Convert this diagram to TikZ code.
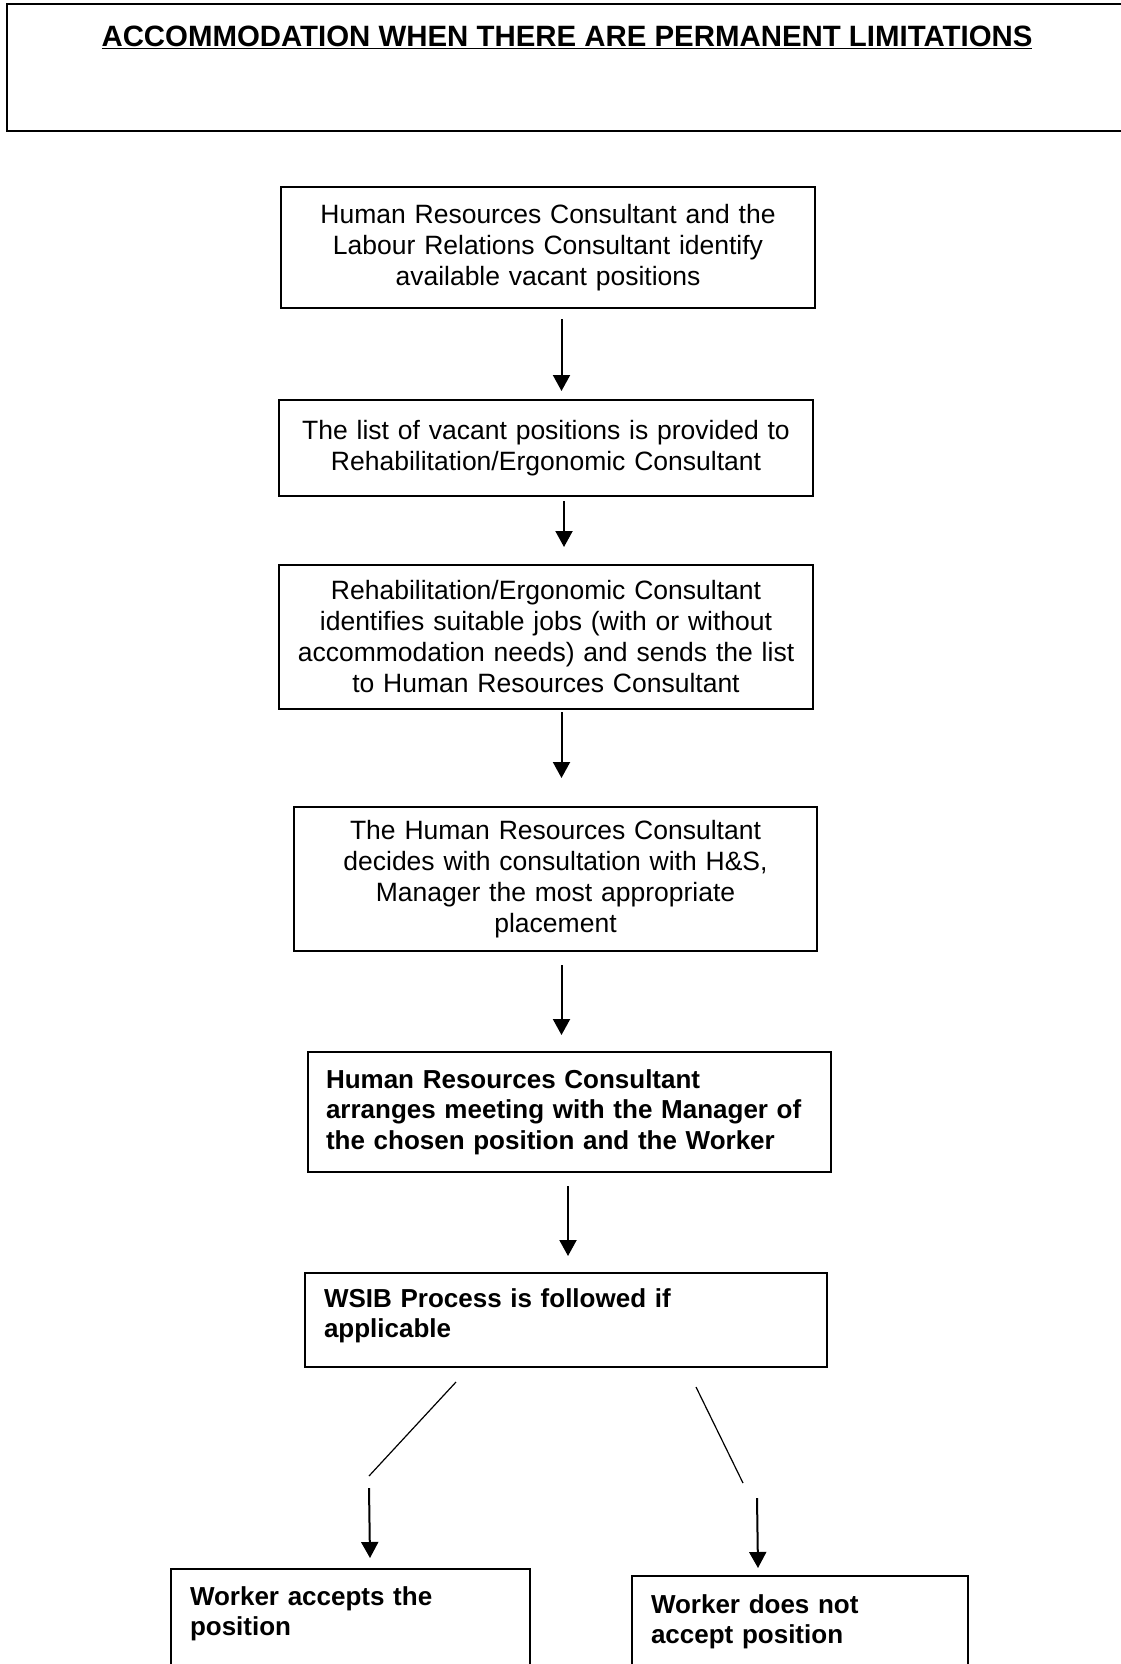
\documentclass[tikz,border=0pt]{standalone}
\usepackage{fontspec}
\setmainfont{Liberation Sans}
\usetikzlibrary{arrows.meta}

\tikzset{
  stepbox/.style={draw, line width=2pt, rectangle, anchor=north west, inner sep=0pt,
    font=\fontsize{26.5}{31}\selectfont},
  midbox/.style={stepbox, align=center},
  leftbox/.style={stepbox, align=left, font=\fontsize{26}{30.5}\selectfont\bfseries},
  arr/.style={line width=2pt, -{Triangle[length=16pt,width=17pt]}},
  split/.style={line width=1.2pt},
}

\begin{document}
\begin{tikzpicture}[x=1pt,y=-1pt]
  \useasboundingbox (0,0) rectangle (1120,1664);
  \fill[white] (0,0) rectangle (1120,1664);

  % title box
  \node[stepbox, minimum width=1120pt, text height=43pt, text depth=84pt,
    font=\fontsize{29.4}{34}\selectfont\bfseries] (title) at (6,3)
    {\underline{ACCOMMODATION WHEN THERE ARE PERMANENT LIMITATIONS}};

  % steps
  \node[midbox, minimum width=534pt, minimum height=121pt, text width=510pt] (vacant) at (280,186)
    {Human Resources Consultant and the\\Labour Relations Consultant identify\\available vacant positions};
  \node[midbox, minimum width=534pt, minimum height=96pt, text width=510pt] (list) at (278,399)
    {The list of vacant positions is provided to\\Rehabilitation/Ergonomic Consultant};
  \node[midbox, minimum width=534pt, minimum height=144pt, text width=514pt] (jobs) at (278,564)
    {Rehabilitation/Ergonomic Consultant\\identifies suitable jobs (with or without\\accommodation needs) and sends the list\\to Human Resources Consultant};
  \node[midbox, minimum width=523pt, minimum height=144pt, text width=500pt] (decide) at (293,806)
    {The Human Resources Consultant\\decides with consultation with H\&S,\\Manager the most appropriate\\placement};
  \node[leftbox, minimum width=523pt, text width=487pt, text height=36pt, text depth=84pt] (meet) at (307,1051)
    {Human Resources Consultant\\arranges meeting with the Manager of\\the chosen position and the Worker};
  \node[leftbox, minimum width=522pt, text width=484pt, text height=34pt, text depth=60pt] (wsib) at (304,1272)
    {WSIB Process is followed if\\applicable};

  % outcomes
  \node[leftbox, minimum width=359pt, text width=321pt, text height=36pt, text depth=150pt] (accept) at (170,1568)
    {Worker accepts the\\position};
  \node[leftbox, minimum width=336pt, text width=298pt, text height=37pt, text depth=150pt] (decline) at (631,1575)
    {Worker does not\\accept position};

  % arrows
  \draw[arr] ([xshift=13.5pt,yshift=-10pt]vacant.south) -- ([xshift=15.5pt,yshift=8pt]list.north);
  \draw[arr] ([xshift=18pt,yshift=-4pt]list.south) -- ([xshift=18pt,yshift=17pt]jobs.north);
  \draw[arr] ([xshift=15.5pt,yshift=-2pt]jobs.south) -- ([xshift=6pt,yshift=28pt]decide.north);
  \draw[arr] ([xshift=6pt,yshift=-13pt]decide.south) -- ([xshift=-8pt,yshift=16pt]meet.north);
  \draw[arr] ([xshift=-1.5pt,yshift=-13pt]meet.south) -- ([xshift=2pt,yshift=16pt]wsib.north);

  % split
  \coordinate (lsplit) at (369,1476);
  \coordinate (rsplit) at (743,1483);
  \draw[split] ([xshift=-110pt,yshift=-14pt]wsib.south) -- (lsplit);
  \draw[split] ([xshift=130pt,yshift=-19pt]wsib.south) -- (rsplit);
  \draw[arr] ([yshift=-12pt]lsplit) -- ([xshift=19.5pt,yshift=10pt]accept.north);
  \draw[arr] ([xshift=14pt,yshift=-15pt]rsplit) -- ([xshift=-42pt,yshift=7pt]decline.north);
\end{tikzpicture}
\end{document}
